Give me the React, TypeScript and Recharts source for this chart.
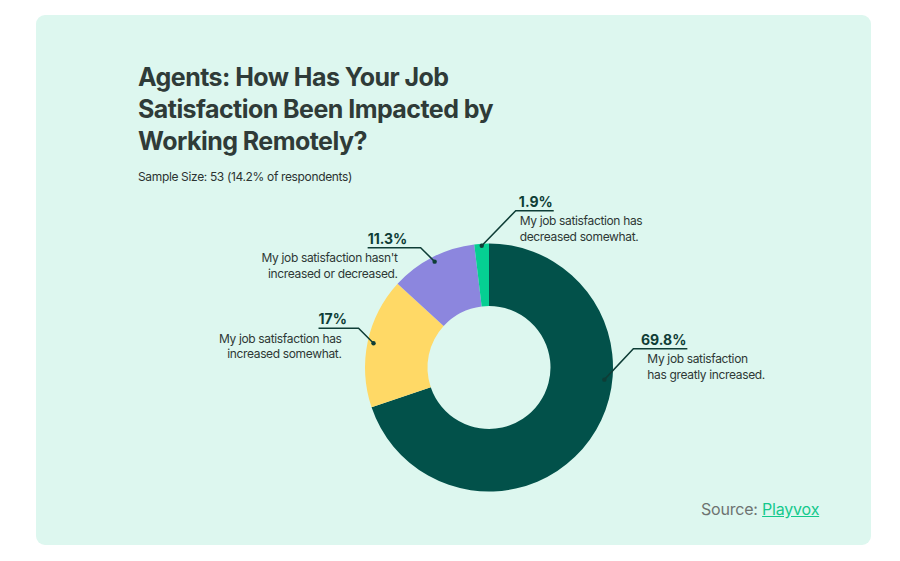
import { Cell, Pie, PieChart } from "recharts";

// survey answers, clockwise from 12 o'clock
const answers = ["greatly", "somewhat", "neutral", "decreased"];
const shares = [69.8, 17, 11.3, 1.9];
const colors = ["#02514a", "#ffd966", "#8c86de", "#05cf92"];
const descriptions = [
  ["My job satisfaction", "has greatly increased."],
  ["My job satisfaction has", "increased somewhat."],
  ["My job satisfaction hasn't", "increased or decreased."],
  ["My job satisfaction has", "decreased somewhat."],
];

// leader line layout for each callout (angle overrides the slice mid angle)
const callouts = [
  { angle: -6, inset: 8, elbow: [29, -31], run: 54, descDx: 14 },
  { inset: 6, elbow: [-15, -15], run: -40, descDx: -17 },
  { inset: 5, elbow: [-14, -14], run: -53, descDx: -23 },
  { inset: 2, elbow: [34, -35], run: 38, descDx: 4 },
];

const data = answers.map((a, i) => ({ name: a, value: shares[i] }));

const RAD = Math.PI / 180;
const INK = "#0e3d36";
const FONT = "Inter, 'Noto Sans', sans-serif";

function Callout(props: any) {
  const { cx, cy, midAngle, outerRadius, index, value } = props;
  const c = callouts[index];
  const angle = c.angle ?? midAngle;
  const r = outerRadius - c.inset;
  const x0 = cx + r * Math.cos(-angle * RAD);
  const y0 = cy + r * Math.sin(-angle * RAD);
  const x1 = x0 + c.elbow[0];
  const y1 = y0 + c.elbow[1];
  const x2 = x1 + c.run;
  const right = c.run > 0;
  const descX = x1 + c.descDx;
  return (
    <g>
      <polyline
        points={`${x0},${y0} ${x1},${y1} ${x2},${y1}`}
        fill="none"
        stroke={INK}
        strokeWidth={1.5}
      />
      <circle cx={x0} cy={y0} r={2.2} fill={INK} />
      <text
        x={right ? x2 - 1 : x2}
        y={y1 - 4}
        textAnchor={right ? "end" : "start"}
        fontFamily={FONT}
        fontWeight={700}
        fontSize={14}
        fill={INK}
      >
        {value}%
      </text>
      {descriptions[index].map((line, k) => (
        <text
          key={k}
          x={descX}
          y={y1 + 14.5 + k * 15.5}
          textAnchor={right ? "start" : "end"}
          fontFamily={FONT}
          fontSize={12}
          letterSpacing={-0.35}
          fill="#2e3835"
        >
          {line}
        </text>
      ))}
    </g>
  );
}

export default function App() {
  return (
    <div
      style={{
        position: "absolute",
        left: 0,
        top: 0,
        width: 900,
        height: 561,
        background: "#ffffff",
        fontFamily: FONT,
      }}
    >
      <div
        style={{
          position: "absolute",
          left: 36,
          top: 15,
          width: 835,
          height: 530,
          borderRadius: 9,
          background: "#ddf7ef",
        }}
      />
      <div
        style={{
          position: "absolute",
          left: 138,
          top: 61,
          fontSize: 25,
          fontWeight: 700,
          lineHeight: "32px",
          letterSpacing: -0.55,
          color: "#2f3b38",
        }}
      >
        Agents: How Has Your Job
        <br />
        Satisfaction Been Impacted by
        <br />
        Working Remotely?
      </div>
      <div
        style={{
          position: "absolute",
          left: 138,
          top: 169,
          fontSize: 12,
          letterSpacing: -0.35,
          color: "#2b3331",
        }}
      >
        Sample Size: 53 (14.2% of respondents)
      </div>
      <div style={{ position: "absolute", left: 0, top: 0 }}>
        <PieChart width={900} height={561} margin={{ top: 0, right: 0, bottom: 0, left: 0 }}>
          <Pie
            data={data}
            dataKey="value"
            nameKey="name"
            cx={489}
            cy={367.5}
            innerRadius={61.5}
            outerRadius={124}
            startAngle={90}
            endAngle={-270}
            stroke="none"
            label={Callout}
            labelLine={false}
            isAnimationActive={false}
          >
            {data.map((d, i) => (
              <Cell key={d.name} fill={colors[i]} />
            ))}
          </Pie>
        </PieChart>
      </div>
      <div
        style={{
          position: "absolute",
          left: 701,
          top: 499,
          fontSize: 16,
          letterSpacing: -0.2,
          color: "#6d7371",
        }}
      >
        Source:{" "}
        <span style={{ color: "#14c98c", textDecoration: "underline" }}>Playvox</span>
      </div>
    </div>
  );
}
